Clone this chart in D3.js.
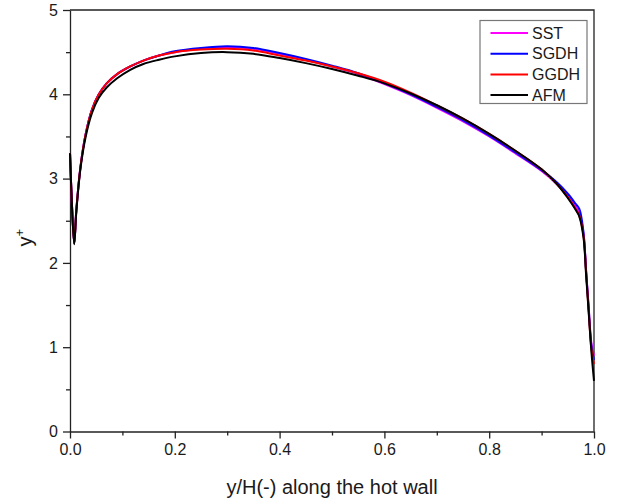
<!DOCTYPE html>
<html>
<head>
<meta charset="utf-8">
<script src="https://cdn.jsdelivr.net/npm/d3@7"></script>
<style>
  body { margin: 0; background: #fff; }
  text { font-family: Arial, "Liberation Sans", sans-serif; }
</style>
</head>
<body>
<div id="chart"></div>
<script>
// data
const xs = [0, 0.003, 0.008, 0.012, 0.02, 0.03, 0.042, 0.055, 0.07, 0.09, 0.115, 0.14, 0.17, 0.2, 0.25, 0.3, 0.35, 0.4, 0.45, 0.5, 0.55, 0.6, 0.65, 0.7, 0.75, 0.8, 0.85, 0.9, 0.93, 0.95, 0.965, 0.972, 0.98, 0.985, 0.99, 0.995, 1.0];
const sst  = [3.30, 2.80, 2.23, 2.62, 3.14, 3.53, 3.82, 4.00, 4.13, 4.24, 4.33, 4.40, 4.46, 4.50, 4.54, 4.56, 4.54, 4.48, 4.41, 4.33, 4.24, 4.12, 3.99, 3.84, 3.68, 3.50, 3.30, 3.09, 2.93, 2.79, 2.67, 2.60, 2.34, 1.90, 1.46, 1.05, 0.90];
const sgdh = [3.30, 2.80, 2.23, 2.62, 3.14, 3.53, 3.82, 4.00, 4.13, 4.24, 4.33, 4.40, 4.46, 4.51, 4.55, 4.57, 4.55, 4.49, 4.42, 4.34, 4.25, 4.13, 4.00, 3.85, 3.69, 3.51, 3.31, 3.10, 2.95, 2.82, 2.70, 2.64, 2.36, 1.90, 1.45, 1.02, 0.85];
const ggdh = [3.30, 2.80, 2.23, 2.62, 3.14, 3.53, 3.82, 4.00, 4.13, 4.24, 4.33, 4.40, 4.46, 4.50, 4.53, 4.54, 4.52, 4.46, 4.40, 4.33, 4.25, 4.15, 4.02, 3.87, 3.71, 3.53, 3.33, 3.11, 2.93, 2.78, 2.64, 2.56, 2.32, 1.88, 1.42, 0.98, 0.80];
const afm  = [3.30, 2.80, 2.22, 2.60, 3.12, 3.50, 3.78, 3.96, 4.08, 4.19, 4.29, 4.36, 4.41, 4.45, 4.49, 4.50, 4.48, 4.43, 4.37, 4.30, 4.22, 4.13, 4.01, 3.87, 3.71, 3.53, 3.33, 3.11, 2.93, 2.77, 2.63, 2.55, 2.30, 1.85, 1.40, 0.95, 0.60];
const seriesNames = ["SST", "SGDH", "GGDH", "AFM"];
const seriesColors = ["#ff00ff", "#0000ff", "#ff0000", "#000000"];
const xTicks = [0, 0.2, 0.4, 0.6, 0.8, 1.0];
const yTicks = [0, 1, 2, 3, 4, 5];

// width/height variables
var margin = { top: 10, right: 33, bottom: 69.5, left: 70 },
  width = 627 - margin.left - margin.right,
  height = 501 - margin.top - margin.bottom;

var svg = d3
  .select("#chart")
  .append("svg")
  .attr("width", 627)
  .attr("height", 501)
  .append("g")
  .attr("transform", "translate(" + margin.left + "," + margin.top + ")");

// x and y
var x = d3.scaleLinear().domain([0, 1]).range([0, width]);
var y = d3.scaleLinear().domain([0, 5]).range([height, 0]);

// minor ticks
svg
  .append("g")
  .attr("transform", "translate(0," + height + ")")
  .call(d3.axisBottom(x).tickValues(d3.range(0.1, 1, 0.2)).tickSize(4).tickFormat(""))
  .call((g) => g.select(".domain").remove())
  .selectAll("line")
  .attr("stroke", "#222")
  .attr("stroke-width", 1.3);
svg
  .append("g")
  .call(d3.axisLeft(y).tickValues(d3.range(0.5, 5, 1)).tickSize(4).tickFormat(""))
  .call((g) => g.select(".domain").remove())
  .selectAll("line")
  .attr("stroke", "#222")
  .attr("stroke-width", 1.3);

// x axis
var xAxis = svg
  .append("g")
  .attr("transform", "translate(0," + height + ")")
  .call(d3.axisBottom(x).tickValues(xTicks).tickSize(7).tickSizeOuter(0).tickPadding(5).tickFormat(d3.format(".1f")));

// y axis
var yAxis = svg
  .append("g")
  .call(d3.axisLeft(y).tickValues(yTicks).tickSize(7).tickSizeOuter(0).tickPadding(5).tickFormat(d3.format("d")));

[xAxis, yAxis].forEach(function (a) {
  a.select(".domain").attr("stroke", "#222").attr("stroke-width", 1.3);
  a.selectAll("line").attr("stroke", "#222").attr("stroke-width", 1.3);
  a.selectAll("text")
    .attr("fill", "#1a1a1a")
    .style("font-size", "16px")
    .style("font-family", "Arial, 'Liberation Sans', sans-serif");
});

// top and right frame
svg
  .append("path")
  .attr("d", "M0,0H" + width + "V" + height)
  .attr("fill", "none")
  .attr("stroke", "#222")
  .attr("stroke-width", 1.3);

// lines
var line = d3
  .line()
  .x((d) => x(d[0]))
  .y((d) => y(d[1]))
  .curve(d3.curveCatmullRom.alpha(0.5));

var allSeries = [sst, sgdh, ggdh, afm];
allSeries.forEach(function (vals, i) {
  svg
    .append("path")
    .datum(xs.map((v, j) => [v, vals[j]]))
    .attr("fill", "none")
    .attr("stroke", seriesColors[i])
    .attr("stroke-width", 2)
    .attr("stroke-linejoin", "round")
    .attr("d", line);
});

// axis labels
svg
  .append("text")
  .attr("x", width / 2)
  .attr("y", height + 62)
  .attr("text-anchor", "middle")
  .attr("fill", "#1a1a1a")
  .style("font-size", "20px")
  .text("y/H(-) along the hot wall");

var yLabel = svg
  .append("text")
  .attr("transform", "translate(-38," + (height / 2 + 17) + ") rotate(-90)")
  .attr("text-anchor", "middle")
  .attr("fill", "#1a1a1a")
  .style("font-size", "20px");
yLabel.append("tspan").text("y");
yLabel.append("tspan").attr("dy", -8).style("font-size", "13px").text("+");

// legend
var legend = svg.append("g").attr("transform", "translate(410,10.5)");
legend
  .append("rect")
  .attr("width", 107)
  .attr("height", 83)
  .attr("fill", "#fff")
  .attr("stroke", "#777")
  .attr("stroke-width", 1.2);
seriesNames.forEach(function (name, i) {
  var row = legend.append("g").attr("transform", "translate(0," + (12.5 + i * 20.7) + ")");
  row
    .append("line")
    .attr("x1", 10.5)
    .attr("x2", 48)
    .attr("stroke", seriesColors[i])
    .attr("stroke-width", 2);
  row
    .append("text")
    .attr("x", 52)
    .attr("dy", "0.35em")
    .attr("fill", "#1a1a1a")
    .style("font-size", "16px")
    .text(name);
});
</script>
</body>
</html>
